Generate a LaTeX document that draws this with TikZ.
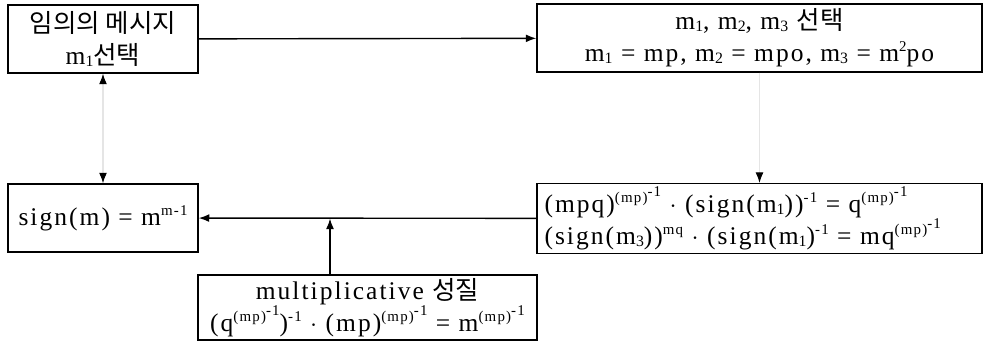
\documentclass[tikz,border=0pt]{standalone}
\usepackage{fontspec}
\setmainfont{Liberation Serif}[LetterSpace=8]
\newfontfamily\kr{Noto Sans CJK KR}
\usetikzlibrary{arrows.meta}
\newcommand{\upx}[1]{\raisebox{0.85ex}{\fontsize{8.5}{8}\selectfont #1}}
\newcommand{\dnx}[1]{\raisebox{-0.15ex}{\fontsize{9}{9}\selectfont #1}}

\begin{document}
\begin{tikzpicture}[
    box/.style={draw, line width=0.8pt, minimum width=3.8cm, minimum height=1.36cm,
                inner sep=2pt, align=center, font=\fontsize{14.5}{18}\selectfont},
    arr/.style={-{Latex[length=6pt,width=4.5pt]}, line width=0.8pt},
    faint/.style={draw=black!10, line width=0.6pt},
]
\useasboundingbox (0,0) rectangle (19.78,-6.84);

\node[box] (pick)  at (2.06,-0.78)  {{\kr 임의의 메시지}\\m\dnx{1}{\kr 선택}};
\node[box, minimum width=8.9cm] (split) at (15.19,-0.76)
    {m\dnx{1}, m\dnx{2}, m\dnx{3} {\kr 선택}\\m\dnx{1} = mp, m\dnx{2} = mpo, m\dnx{3} = m\upx{2}po};
\node[box] (sign)  at (2.06,-4.36)  {sign(m) = m\upx{m-1}};
\node[box, minimum width=8.9cm, minimum height=1.34cm, align=left, text width=8.6cm] (calc) at (15.19,-4.37)
    {(mpq)\upx{(mp)\upx{-1}} $\cdot$ (sign(m\dnx{1}))\upx{-1} = q\upx{(mp)\upx{-1}}\\
     (sign(m\dnx{3}))\upx{mq} $\cdot$ (sign(m\dnx{1})\upx{-1} = mq\upx{(mp)\upx{-1}}};
\node[box, minimum width=6.78cm, minimum height=1.3cm, inner sep=0pt] (mult) at (7.35,-6.15)
    {multiplicative {\kr 성질}\\(q\upx{(mp)\upx{-1}})\upx{-1} $\cdot$ (mp)\upx{(mp)\upx{-1}} = m\upx{(mp)\upx{-1}}};

\coordinate (meet) at (6.6,-4.37);

\draw[arr] (pick) -- (split);
\draw[arr] (calc) -- (sign);
\draw[arr] (mult.north -| meet) -- (meet);
\draw[faint, {Latex[black,length=6pt,width=4.5pt]}-{Latex[black,length=6pt,width=4.5pt]}] (pick) -- (sign);
\draw[faint, -{Latex[black,length=6pt,width=4.5pt]}] (split) -- (calc);
\end{tikzpicture}
\end{document}
